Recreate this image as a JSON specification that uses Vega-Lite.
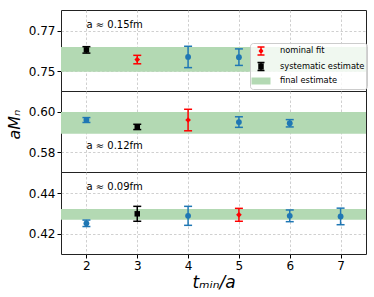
{
  "$schema": "https://vega.github.io/schema/vega-lite/v6.json",
  "padding": {"left": 5, "top": 9, "right": 9, "bottom": 5},
  "bounds": "flush",
  "datasets": {
    "pts": [
      {"p": 1, "t": 2, "y": 0.7606, "lo": 0.7590, "hi": 0.7622, "kind": "systematic estimate"},
      {"p": 1, "t": 3, "y": 0.7558, "lo": 0.7537, "hi": 0.7579, "kind": "nominal fit"},
      {"p": 1, "t": 4, "y": 0.7571, "lo": 0.7518, "hi": 0.7624, "kind": "fit"},
      {"p": 1, "t": 5, "y": 0.7570, "lo": 0.7529, "hi": 0.7611, "kind": "fit"},
      {"p": 2, "t": 2, "y": 0.5959, "lo": 0.5947, "hi": 0.5971, "kind": "fit"},
      {"p": 2, "t": 3, "y": 0.5925, "lo": 0.5912, "hi": 0.5938, "kind": "systematic estimate"},
      {"p": 2, "t": 4, "y": 0.5959, "lo": 0.5906, "hi": 0.6012, "kind": "nominal fit"},
      {"p": 2, "t": 5, "y": 0.5949, "lo": 0.5923, "hi": 0.5975, "kind": "fit"},
      {"p": 2, "t": 6, "y": 0.5943, "lo": 0.5925, "hi": 0.5961, "kind": "fit"},
      {"p": 3, "t": 2, "y": 0.4252, "lo": 0.4236, "hi": 0.4268, "kind": "fit"},
      {"p": 3, "t": 3, "y": 0.4299, "lo": 0.4262, "hi": 0.4336, "kind": "systematic estimate"},
      {"p": 3, "t": 4, "y": 0.4289, "lo": 0.4242, "hi": 0.4336, "kind": "fit"},
      {"p": 3, "t": 5, "y": 0.4294, "lo": 0.4262, "hi": 0.4326, "kind": "nominal fit"},
      {"p": 3, "t": 6, "y": 0.4289, "lo": 0.4260, "hi": 0.4318, "kind": "fit"},
      {"p": 3, "t": 7, "y": 0.4286, "lo": 0.4245, "hi": 0.4327, "kind": "fit"}
    ],
    "bands": [
      {"p": 1, "lo": 0.7498, "hi": 0.7620, "kind": "final estimate"},
      {"p": 2, "lo": 0.5892, "hi": 0.5999, "kind": "final estimate"},
      {"p": 3, "lo": 0.4270, "hi": 0.4323, "kind": "final estimate"}
    ],
    "labels": [
      {"p": 1, "t": 2, "y": 0.7730, "text": "a ≈ 0.15fm"},
      {"p": 2, "t": 2, "y": 0.5831, "text": "a ≈ 0.12fm"},
      {"p": 3, "t": 2, "y": 0.4431, "text": "a ≈ 0.09fm"}
    ]
  },
  "resolve": {"scale": {"color": "independent", "shape": "independent", "size": "independent"}, "legend": {"color": "independent"}},
  "spacing": 0,
  "vconcat": [
    {
      "width": 305, "height": 81,
      "layer": [
        {
          "data": {"name": "bands"}, "transform": [{"filter": "datum.p == 1"}],
          "mark": {"type": "rect", "opacity": 1},
          "encoding": {
            "y": {"field": "lo", "type": "quantitative", "scale": {"domain": [0.7402, 0.7804], "nice": false, "zero": false}, "axis": {"values": [0.75, 0.77], "format": ".2f", "title": null}},
            "y2": {"field": "hi"},
            "color": {"field": "kind", "type": "nominal", "scale": {"domain": ["fit", "nominal fit", "systematic estimate", "final estimate"], "range": ["#1f77b4", "#ff0000", "#000000", "#b3d9b3"]},
              "legend": {"title": null, "values": ["nominal fit", "systematic estimate", "final estimate"],
                "encoding": {"symbols": {
                  "shape": {"condition": [
                    {"test": "datum.value === 'nominal fit'", "value": "M-0.7,-0.8H0.7M0,-0.8V0.8M-0.7,0.8H0.7M0,-0.4L0.3,0L0,0.4L-0.3,0Z"},
                    {"test": "datum.value === 'systematic estimate'", "value": "M-0.7,-0.8H0.7M0,-0.8V0.8M-0.7,0.8H0.7M-0.4,-0.45H0.4V0.45H-0.4Z"}],
                    "value": "M-1.75,-0.55H1.75V0.55H-1.75Z"},
                  "stroke": {"condition": [
                    {"test": "datum.value === 'nominal fit'", "value": "#ff0000"},
                    {"test": "datum.value === 'systematic estimate'", "value": "#000000"}],
                    "value": "transparent"},
                  "strokeWidth": {"value": 1.5},
                  "opacity": {"value": 1}
                }}}}
          }
        },
        {
          "data": {"name": "pts"}, "transform": [{"filter": "datum.p == 1"}],
          "mark": {"type": "rule", "strokeWidth": 1.5},
          "encoding": {
            "x": {"field": "t", "type": "quantitative", "scale": {"domain": [1.5, 7.5], "nice": false, "zero": false}, "axis": {"values": [2, 3, 4, 5, 6, 7], "labels": false, "ticks": false, "title": null}},
            "y": {"field": "lo", "type": "quantitative"},
            "y2": {"field": "hi"},
            "color": {"field": "kind", "type": "nominal", "legend": null}
          }
        },
        {
          "data": {"name": "pts"}, "transform": [{"filter": "datum.p == 1"}],
          "mark": {"type": "tick", "orient": "horizontal", "size": 8, "thickness": 1.5, "opacity": 1},
          "encoding": {
            "x": {"field": "t", "type": "quantitative"},
            "y": {"field": "lo", "type": "quantitative"},
            "color": {"field": "kind", "type": "nominal", "legend": null}
          }
        },
        {
          "data": {"name": "pts"}, "transform": [{"filter": "datum.p == 1"}],
          "mark": {"type": "tick", "orient": "horizontal", "size": 8, "thickness": 1.5, "opacity": 1},
          "encoding": {
            "x": {"field": "t", "type": "quantitative"},
            "y": {"field": "hi", "type": "quantitative"},
            "color": {"field": "kind", "type": "nominal", "legend": null}
          }
        },
        {
          "data": {"name": "pts"}, "transform": [{"filter": "datum.p == 1"}],
          "mark": {"type": "point", "filled": true, "opacity": 1},
          "encoding": {
            "x": {"field": "t", "type": "quantitative"},
            "y": {"field": "y", "type": "quantitative"},
            "color": {"field": "kind", "type": "nominal", "legend": null},
            "shape": {"field": "kind", "type": "nominal", "scale": {"domain": ["fit", "nominal fit", "systematic estimate"], "range": ["circle", "diamond", "square"]}, "legend": null},
            "size": {"field": "kind", "type": "nominal", "scale": {"domain": ["fit", "nominal fit", "systematic estimate"], "range": [34, 30, 48]}, "legend": null}
          }
        },
        {
          "data": {"name": "labels"}, "transform": [{"filter": "datum.p == 1"}],
          "mark": {"type": "text", "align": "left", "baseline": "middle", "fontSize": 10, "color": "black"},
          "encoding": {
            "x": {"field": "t", "type": "quantitative"},
            "y": {"field": "y", "type": "quantitative"},
            "text": {"field": "text"}
          }
        }
      ]
    },
    {
      "width": 305, "height": 81,
      "layer": [
        {
          "data": {"name": "bands"}, "transform": [{"filter": "datum.p == 2"}],
          "mark": {"type": "rect", "color": "#b3d9b3", "opacity": 1},
          "encoding": {
            "y": {"field": "lo", "type": "quantitative", "scale": {"domain": [0.5703, 0.6102], "nice": false, "zero": false}, "axis": {"values": [0.58, 0.60], "format": ".2f", "title": "aMₙ", "titleFontSize": 16, "titleFontStyle": "italic", "titlePadding": 6, "titleY": 33}},
            "y2": {"field": "hi"}
          }
        },
        {
          "data": {"name": "pts"}, "transform": [{"filter": "datum.p == 2"}],
          "mark": {"type": "rule", "strokeWidth": 1.5},
          "encoding": {
            "x": {"field": "t", "type": "quantitative", "scale": {"domain": [1.5, 7.5], "nice": false, "zero": false}, "axis": {"values": [2, 3, 4, 5, 6, 7], "labels": false, "ticks": false, "title": null}},
            "y": {"field": "lo", "type": "quantitative"},
            "y2": {"field": "hi"},
            "color": {"field": "kind", "type": "nominal", "scale": {"domain": ["fit", "nominal fit", "systematic estimate"], "range": ["#1f77b4", "#ff0000", "#000000"]}, "legend": null}
          }
        },
        {
          "data": {"name": "pts"}, "transform": [{"filter": "datum.p == 2"}],
          "mark": {"type": "tick", "orient": "horizontal", "size": 8, "thickness": 1.5, "opacity": 1},
          "encoding": {
            "x": {"field": "t", "type": "quantitative"},
            "y": {"field": "lo", "type": "quantitative"},
            "color": {"field": "kind", "type": "nominal", "legend": null}
          }
        },
        {
          "data": {"name": "pts"}, "transform": [{"filter": "datum.p == 2"}],
          "mark": {"type": "tick", "orient": "horizontal", "size": 8, "thickness": 1.5, "opacity": 1},
          "encoding": {
            "x": {"field": "t", "type": "quantitative"},
            "y": {"field": "hi", "type": "quantitative"},
            "color": {"field": "kind", "type": "nominal", "legend": null}
          }
        },
        {
          "data": {"name": "pts"}, "transform": [{"filter": "datum.p == 2"}],
          "mark": {"type": "point", "filled": true, "opacity": 1},
          "encoding": {
            "x": {"field": "t", "type": "quantitative"},
            "y": {"field": "y", "type": "quantitative"},
            "color": {"field": "kind", "type": "nominal", "legend": null},
            "shape": {"field": "kind", "type": "nominal", "scale": {"domain": ["fit", "nominal fit", "systematic estimate"], "range": ["circle", "diamond", "square"]}, "legend": null},
            "size": {"field": "kind", "type": "nominal", "scale": {"domain": ["fit", "nominal fit", "systematic estimate"], "range": [34, 30, 48]}, "legend": null}
          }
        },
        {
          "data": {"name": "labels"}, "transform": [{"filter": "datum.p == 2"}],
          "mark": {"type": "text", "align": "left", "baseline": "middle", "fontSize": 10, "color": "black"},
          "encoding": {
            "x": {"field": "t", "type": "quantitative"},
            "y": {"field": "y", "type": "quantitative"},
            "text": {"field": "text"}
          }
        }
      ]
    },
    {
      "width": 305, "height": 82,
      "layer": [
        {
          "data": {"name": "bands"}, "transform": [{"filter": "datum.p == 3"}],
          "mark": {"type": "rect", "color": "#b3d9b3", "opacity": 1},
          "encoding": {
            "y": {"field": "lo", "type": "quantitative", "scale": {"domain": [0.4100, 0.4506], "nice": false, "zero": false}, "axis": {"values": [0.42, 0.44], "format": ".2f", "title": null}},
            "y2": {"field": "hi"}
          }
        },
        {
          "data": {"name": "pts"}, "transform": [{"filter": "datum.p == 3"}],
          "mark": {"type": "rule", "strokeWidth": 1.5},
          "encoding": {
            "x": {"field": "t", "type": "quantitative", "scale": {"domain": [1.5, 7.5], "nice": false, "zero": false}, "axis": {"values": [2, 3, 4, 5, 6, 7], "title": "tₘᵢₙ/a", "titleFontSize": 17, "titleFontStyle": "italic", "titlePadding": 3}},
            "y": {"field": "lo", "type": "quantitative"},
            "y2": {"field": "hi"},
            "color": {"field": "kind", "type": "nominal", "scale": {"domain": ["fit", "nominal fit", "systematic estimate"], "range": ["#1f77b4", "#ff0000", "#000000"]}, "legend": null}
          }
        },
        {
          "data": {"name": "pts"}, "transform": [{"filter": "datum.p == 3"}],
          "mark": {"type": "tick", "orient": "horizontal", "size": 8, "thickness": 1.5, "opacity": 1},
          "encoding": {
            "x": {"field": "t", "type": "quantitative"},
            "y": {"field": "lo", "type": "quantitative"},
            "color": {"field": "kind", "type": "nominal", "legend": null}
          }
        },
        {
          "data": {"name": "pts"}, "transform": [{"filter": "datum.p == 3"}],
          "mark": {"type": "tick", "orient": "horizontal", "size": 8, "thickness": 1.5, "opacity": 1},
          "encoding": {
            "x": {"field": "t", "type": "quantitative"},
            "y": {"field": "hi", "type": "quantitative"},
            "color": {"field": "kind", "type": "nominal", "legend": null}
          }
        },
        {
          "data": {"name": "pts"}, "transform": [{"filter": "datum.p == 3"}],
          "mark": {"type": "point", "filled": true, "opacity": 1},
          "encoding": {
            "x": {"field": "t", "type": "quantitative"},
            "y": {"field": "y", "type": "quantitative"},
            "color": {"field": "kind", "type": "nominal", "legend": null},
            "shape": {"field": "kind", "type": "nominal", "scale": {"domain": ["fit", "nominal fit", "systematic estimate"], "range": ["circle", "diamond", "square"]}, "legend": null},
            "size": {"field": "kind", "type": "nominal", "scale": {"domain": ["fit", "nominal fit", "systematic estimate"], "range": [34, 30, 48]}, "legend": null}
          }
        },
        {
          "data": {"name": "labels"}, "transform": [{"filter": "datum.p == 3"}],
          "mark": {"type": "text", "align": "left", "baseline": "middle", "fontSize": 10, "color": "black"},
          "encoding": {
            "x": {"field": "t", "type": "quantitative"},
            "y": {"field": "y", "type": "quantitative"},
            "text": {"field": "text"}
          }
        }
      ]
    }
  ],
  "config": {
    "font": "DejaVu Sans",
    "view": {"stroke": "#222222", "strokeWidth": 1},
    "axis": {"labelFontSize": 12, "labelColor": "black", "labelFont": "DejaVu Sans", "tickColor": "black", "tickSize": 4, "tickWidth": 1, "domain": false, "grid": true, "gridColor": "#c4c4c4", "gridDash": [2.5, 2], "gridWidth": 0.8, "labelPadding": 2, "titleFontWeight": "normal", "titleColor": "black", "titleFont": "DejaVu Sans"},
    "legend": {"orient": "none", "legendX": 189, "legendY": 33, "offset": 0, "titlePadding": 0, "fillColor": "rgba(255,255,255,0.8)", "strokeColor": "#cccccc", "cornerRadius": 3, "padding": 2, "symbolSize": 100, "labelOffset": 13, "rowPadding": 1.5, "labelFontSize": 8.3, "labelColor": "black", "labelFont": "DejaVu Sans", "symbolOffset": 3}
  }
}
